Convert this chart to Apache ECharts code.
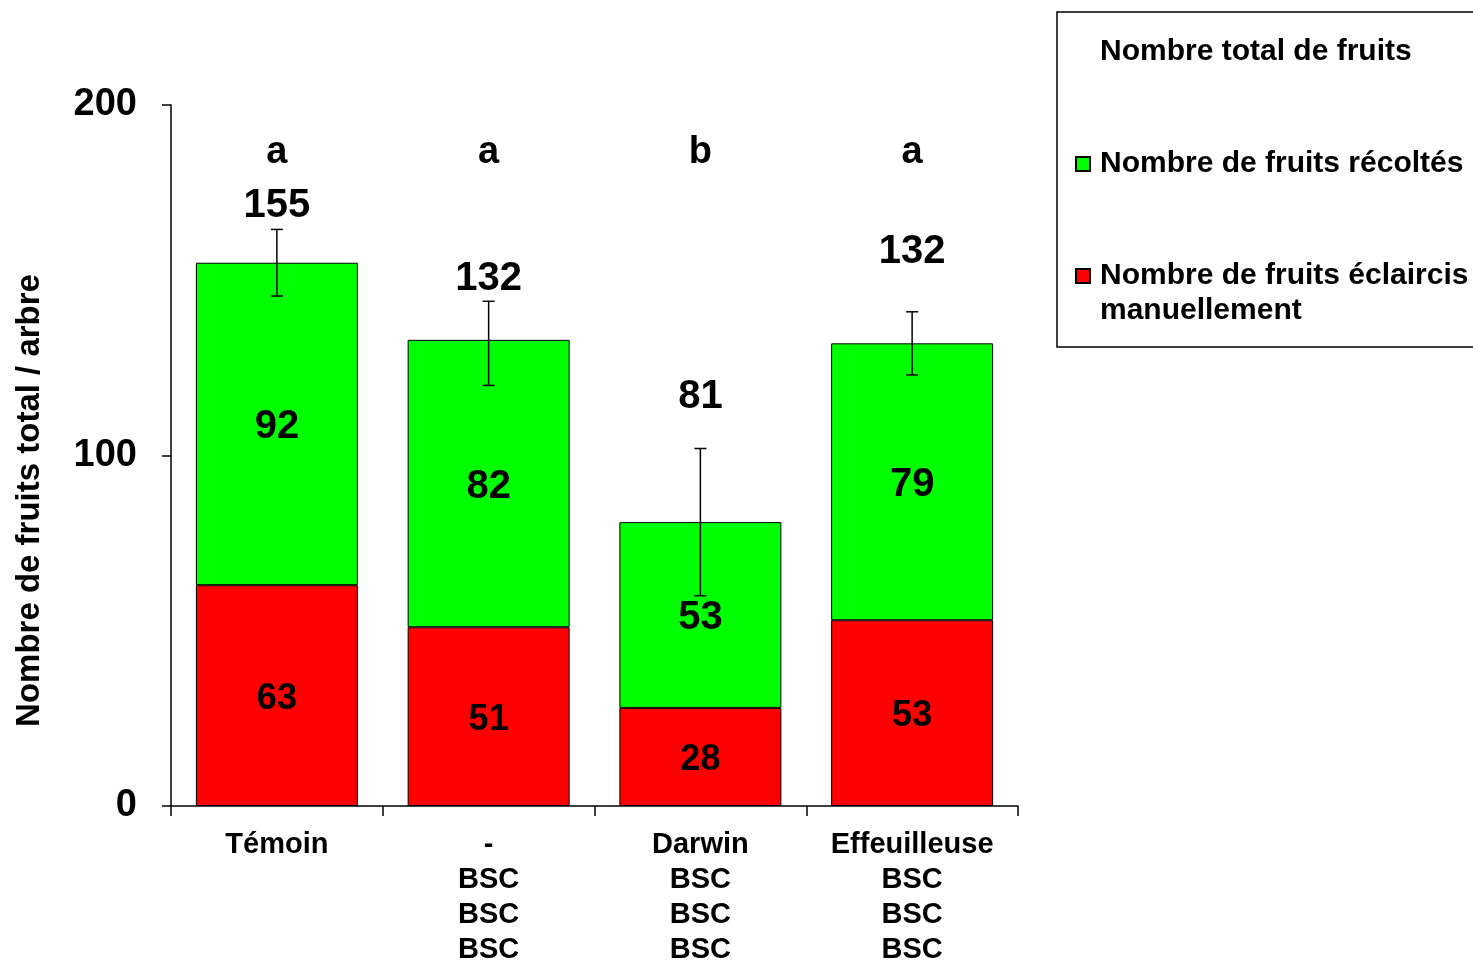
<!DOCTYPE html>
<html>
<head>
<meta charset="utf-8">
<script src="https://cdn.jsdelivr.net/npm/echarts@6/dist/echarts.min.js"></script>
<style>
html,body{margin:0;padding:0;background:#fff;}
#chart{width:1473px;height:961px;}
</style>
</head>
<body>
<div id="chart"></div>
<script>
// ---- data ----
const categories = ['Témoin', '-\nBSC\nBSC\nBSC', 'Darwin\nBSC\nBSC\nBSC', 'Effeuilleuse\nBSC\nBSC\nBSC'];
const eclaircis = [63, 51, 28, 53];        // red, bottom
const recoltes = [92, 82, 53, 79];         // green, top
const totals = [155, 132, 81, 132];
const errors = [9.5, 12, 21, 9];
const letters = ['a', 'a', 'b', 'a'];
const totalLabelY = [171.8, 150.9, 117.3, 158.6];
const letterY = 187.2;
const yTicks = { min: 0, max: 200, interval: 100 };

const FONT = '"Liberation Sans", Arial, sans-serif';
const NAME_TOTAL = 'Nombre total de fruits';
const NAME_REC = 'Nombre de fruits récoltés';
const NAME_ECL = 'Nombre de fruits éclaircis manuellement';

const chart = echarts.init(document.getElementById('chart'), null, { renderer: 'canvas' });

const legendText = {};
legendText[NAME_TOTAL] = 'Nombre total de fruits\n ';
legendText[NAME_REC] = ' \nNombre de fruits récoltés\n ';
legendText[NAME_ECL] = ' \nNombre de fruits éclaircis\nmanuellement';

const option = {
  animation: false,
  backgroundColor: '#ffffff',
  textStyle: { fontFamily: FONT },
  grid: { left: 171, right: 455, top: 105, bottom: 155, containLabel: false, outerBoundsMode: 'none' },
  legend: {
    orient: 'vertical',
    left: 1057,
    top: 12,
    padding: [22.5, 30, 18.5, 18],
    borderColor: '#000',
    borderWidth: 1.5,
    itemWidth: 14,
    itemHeight: 14,
    itemGap: 7,
    icon: 'rect',
    selectedMode: false,
    textStyle: { fontFamily: FONT, fontWeight: 'bold', fontSize: 30, color: '#000', lineHeight: 35, padding: [0, 0, 0, 5] },
    formatter: function (name) { return legendText[name] || name; },
    data: [
      { name: NAME_TOTAL, icon: 'none' },
      { name: NAME_REC, icon: 'rect' },
      { name: NAME_ECL, icon: 'rect' }
    ]
  },
  xAxis: {
    type: 'category',
    data: categories,
    axisLine: { lineStyle: { color: '#000', width: 1.5 } },
    axisTick: { show: true, interval: 0, length: 10, lineStyle: { color: '#000', width: 1.5 } },
    axisLabel: {
      interval: 0, margin: 21, color: '#000', fontFamily: FONT, fontWeight: 'bold',
      fontSize: 29, lineHeight: 35
    }
  },
  yAxis: {
    type: 'value',
    min: yTicks.min, max: yTicks.max, interval: yTicks.interval,
    name: 'Nombre de fruits total / arbre',
    nameLocation: 'middle',
    nameGap: 125,
    nameTextStyle: { color: '#000', fontFamily: FONT, fontWeight: 'bold', fontSize: 33, padding: [0, 90, 0, 0] },
    axisLine: { show: true, lineStyle: { color: '#000', width: 1.5 } },
    axisTick: { show: true, length: 9, lineStyle: { color: '#000', width: 1.5 } },
    splitLine: { show: false },
    axisLabel: { margin: 34, color: '#000', fontFamily: FONT, fontWeight: 'bold', fontSize: 38, padding: [5, 0, 0, 0] }
  },
  series: [
    {
      name: NAME_ECL,
      type: 'bar',
      stack: 'fruits',
      barWidth: '76.5%',
      data: eclaircis,
      itemStyle: { color: '#ff0000', borderColor: '#000', borderWidth: 1 },
      label: { show: true, position: 'inside', offset: [0, 3], color: '#000', fontFamily: FONT, fontWeight: 'bold', fontSize: 36 },
      z: 2
    },
    {
      name: NAME_REC,
      type: 'bar',
      stack: 'fruits',
      barWidth: '76.5%',
      data: recoltes,
      itemStyle: { color: '#00ff00', borderColor: '#000', borderWidth: 1 },
      label: { show: true, position: 'inside', offset: [0, 3], color: '#000', fontFamily: FONT, fontWeight: 'bold', fontSize: 40 },
      z: 2
    },
    {
      name: 'errorbars',
      type: 'custom',
      data: categories.map((c, i) => [i, totals[i], errors[i]]),
      renderItem: function (params, api) {
        const x = api.value(0), v = api.value(1), e = api.value(2);
        const top = api.coord([x, v + e]);
        const bot = api.coord([x, v - e]);
        const hw = 6;
        const st = { stroke: '#000', lineWidth: 1.5 };
        return {
          type: 'group',
          children: [
            { type: 'line', shape: { x1: top[0], y1: top[1], x2: bot[0], y2: bot[1] }, style: st },
            { type: 'line', shape: { x1: top[0] - hw, y1: top[1], x2: top[0] + hw, y2: top[1] }, style: st },
            { type: 'line', shape: { x1: bot[0] - hw, y1: bot[1], x2: bot[0] + hw, y2: bot[1] }, style: st }
          ]
        };
      },
      z: 5
    },
    {
      name: NAME_TOTAL,
      type: 'scatter',
      data: totalLabelY,
      symbolSize: 1,
      itemStyle: { color: 'rgba(0,0,0,0)', opacity: 1 },
      label: {
        show: true, position: 'inside', offset: [0, 2], color: '#000', opacity: 1, fontFamily: FONT, fontWeight: 'bold', fontSize: 40,
        formatter: function (p) { return String(totals[p.dataIndex]); }
      },
      z: 6
    },
    {
      name: 'letters',
      type: 'scatter',
      data: letters.map(() => letterY),
      symbolSize: 1,
      itemStyle: { color: 'rgba(0,0,0,0)', opacity: 1 },
      label: {
        show: true, position: 'inside', offset: [0, 3], color: '#000', opacity: 1, fontFamily: FONT, fontWeight: 'bold', fontSize: 38,
        formatter: function (p) { return letters[p.dataIndex]; }
      },
      z: 6
    }
  ]
};
chart.setOption(option);
</script>
</body>
</html>
